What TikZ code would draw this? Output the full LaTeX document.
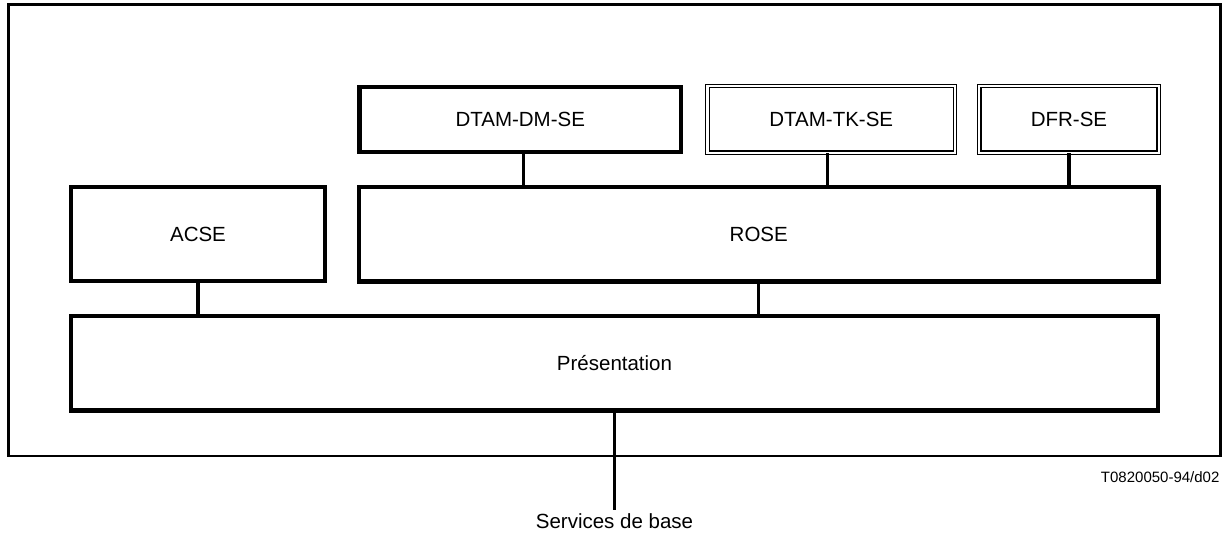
\documentclass[tikz,border=0pt]{standalone}
\usepackage{fontspec}
\setmainfont{Liberation Sans}
\begin{document}
\begin{tikzpicture}[x=1pt,y=-1pt,
  every node/.style={font=\fontsize{20.5}{24}\selectfont, inner sep=0pt},
  framebox/.style={draw, line width=2.5pt},
  thickbox/.style={draw, line width=4.5pt},
  dblbox/.style={draw, double, double distance=2.3pt, line width=1.2pt},
  conn/.style={line width=3.3pt}]
\useasboundingbox (0,0) rectangle (1224,533);
\node[framebox, minimum width=1211.8pt, minimum height=451.7pt] (frame) at (614.6,230.15) {};
\node[thickbox, minimum width=321.5pt, minimum height=65pt] (dm) at (520.25,119.5) {DTAM-DM-SE};
\node[dblbox, minimum width=247.5pt, minimum height=66.7pt] (tk) at (831.25,119.35) {DTAM-TK-SE};
\node[dblbox, minimum width=179.4pt, minimum height=66.7pt] (dfr) at (1069,119.35) {DFR-SE};
\node[thickbox, minimum width=254pt, minimum height=94pt] (acse) at (198,234) {ACSE};
\node[thickbox, minimum width=799.5pt, minimum height=94.5pt] (rose) at (758.75,234.25) {ROSE};
\node[thickbox, minimum width=1087pt, minimum height=94.5pt] (pres) at (614.5,363.25) {Présentation};
\coordinate (cdm) at (523.5,0);
\coordinate (ctk) at (827.5,0);
\coordinate (sb) at (614.5,510);
\draw[conn] (dm.south -| cdm) -- (rose.north -| cdm);
\draw[conn] (tk.south -| ctk) -- (rose.north -| ctk);
\draw[conn] (dfr.south) -- (rose.north -| dfr.south);
\draw[conn] (acse.south) -- (pres.north -| acse.south);
\draw[conn] (rose.south) -- (pres.north -| rose.south);
\draw[conn] (pres.south) -- (sb);
\node[anchor=base] (sbl) at (614.5,528) {Services de base};
\node[anchor=base east, font=\fontsize{15}{18}\selectfont] (ref) at (1219.6,482) {T0820050-94/d02};
\end{tikzpicture}
\end{document}
